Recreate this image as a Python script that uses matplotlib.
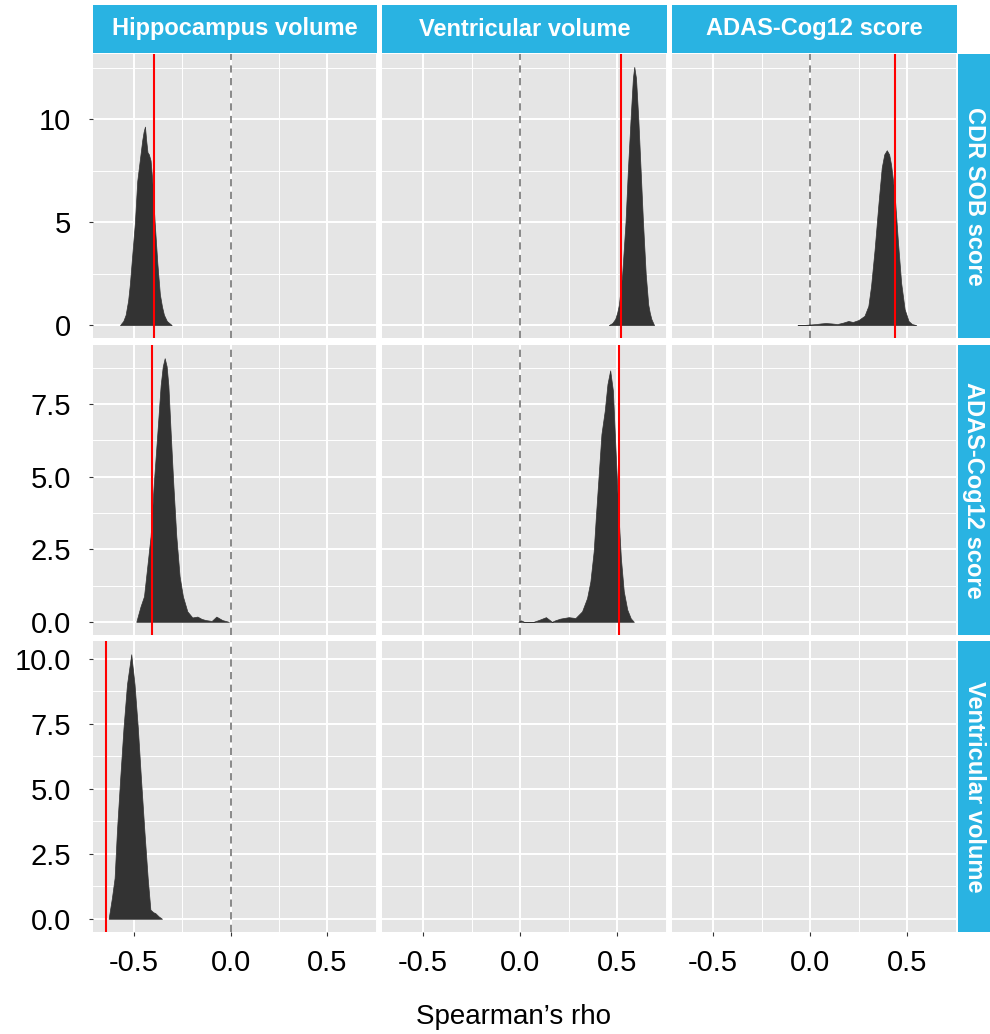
import matplotlib
matplotlib.use("Agg")
import matplotlib.pyplot as plt
import numpy as np

plt.rcParams["font.family"] = ["Liberation Sans", "DejaVu Sans"]

# --- facet labels ---
col_labels = ["Hippocampus volume", "Ventricular volume", "ADAS-Cog12 score"]
row_labels = ["CDR SOB score", "ADAS-Cog12 score", "Ventricular volume"]

# --- bootstrap densities of Spearman's rho ---
hippo_cdr_x = [-0.572, -0.555, -0.543, -0.530, -0.521, -0.508, -0.495, -0.483,
               -0.470, -0.457, -0.450, -0.443, -0.437, -0.430, -0.423, -0.414,
               -0.405, -0.393, -0.379, -0.366, -0.355, -0.345, -0.330, -0.305]
hippo_cdr_y = [0, 0.2, 0.5, 1.2, 2.0, 3.5, 5.0, 7.0, 8.0, 9.0, 9.4, 9.65,
               9.0, 8.4, 8.3, 8.0, 7.0, 5.0, 3.0, 1.5, 0.9, 0.5, 0.2, 0]

vent_cdr_x = [0.457, 0.475, 0.490, 0.500, 0.509, 0.526, 0.543, 0.555, 0.569,
              0.581, 0.588, 0.597, 0.609, 0.621, 0.633, 0.647, 0.660, 0.668,
              0.676, 0.690]
vent_cdr_y = [0, 0.1, 0.3, 0.6, 1.0, 2.5, 5.0, 7.5, 10.0, 12.0, 12.55, 12.0,
              10.0, 7.5, 5.0, 2.5, 1.0, 0.6, 0.3, 0]

adas_cdr_x = [-0.065, -0.03, 0.0, 0.03, 0.055, 0.08, 0.11, 0.14, 0.17, 0.197,
              0.22, 0.25, 0.28, 0.30, 0.314, 0.332, 0.352, 0.369, 0.382, 0.395,
              0.407, 0.417, 0.435, 0.452, 0.469, 0.487, 0.507, 0.525, 0.547]
adas_cdr_y = [0, 0.01, 0.03, 0.05, 0.08, 0.1, 0.08, 0.05, 0.12, 0.2, 0.15,
              0.25, 0.45, 0.93, 1.9, 3.65, 5.9, 7.66, 8.3, 8.5, 8.3, 7.8, 6.4,
              4.1, 2.05, 0.77, 0.2, 0.05, 0]

hippo_adas_x = [-0.488, -0.466, -0.448, -0.431, -0.414, -0.397, -0.379, -0.362,
                -0.351, -0.341, -0.331, -0.322, -0.310, -0.297, -0.281, -0.264,
                -0.247, -0.224, -0.198, -0.172, -0.150, -0.129, -0.098, -0.074,
                -0.043, -0.009]
hippo_adas_y = [0, 0.53, 0.88, 1.91, 2.95, 4.8, 6.5, 8.14, 8.8, 9.08, 8.8,
                8.14, 6.5, 4.8, 2.95, 1.57, 0.88, 0.36, 0.15, 0.18, 0.1, 0.06,
                0.03, 0.18, 0.06, 0]

vent_adas_x = [-0.009, 0.005, 0.02, 0.069, 0.095, 0.133, 0.164, 0.18, 0.207,
               0.25, 0.285, 0.319, 0.345, 0.362, 0.379, 0.391, 0.405, 0.419,
               0.436, 0.45, 0.464, 0.478, 0.491, 0.505, 0.519, 0.534, 0.552,
               0.57, 0.586]
vent_adas_y = [0, 0.05, 0, 0, 0.06, 0.16, 0, 0.05, 0.11, 0.16, 0.13, 0.36,
               0.82, 1.39, 2.43, 3.7, 5.08, 6.47, 7.27, 8.19, 8.66, 7.96, 6.0,
               3.93, 2.2, 1.05, 0.42, 0.12, 0]

hippo_vent_x = [-0.631, -0.614, -0.600, -0.588, -0.571, -0.554, -0.536, -0.514,
                -0.497, -0.480, -0.464, -0.446, -0.429, -0.415, -0.400, -0.390,
                -0.372, -0.355]
hippo_vent_y = [0, 0.8, 1.57, 3.37, 5.42, 7.35, 9.02, 10.18, 9.02, 7.35, 5.42,
                3.37, 1.57, 0.35, 0.25, 0.22, 0.09, 0]

# observed rho (red lines)
observed_rho = {(0, 0): -0.397, (0, 1): 0.522, (0, 2): 0.435,
                (1, 0): -0.409, (1, 1): 0.51,
                (2, 0): -0.645}

densities = {(0, 0): (hippo_cdr_x, hippo_cdr_y),
             (0, 1): (vent_cdr_x, vent_cdr_y),
             (0, 2): (adas_cdr_x, adas_cdr_y),
             (1, 0): (hippo_adas_x, hippo_adas_y),
             (1, 1): (vent_adas_x, vent_adas_y),
             (2, 0): (hippo_vent_x, hippo_vent_y)}

row_ticks = [[0, 5, 10], [0, 2.5, 5, 7.5], [0, 2.5, 5, 7.5, 10]]
row_ticklabels = [["0", "5", "10"], ["0.0", "2.5", "5.0", "7.5"],
                  ["0.0", "2.5", "5.0", "7.5", "10.0"]]
x_ticks = [-0.5, 0.0, 0.5]
x_ticklabels = ["-0.5", "0.0", "0.5"]

# --- layout in pixels ---
W, H = 990, 1034
col_px = [(93, 377), (382, 667), (672, 957)]
row_px = [(54, 338), (345, 635), (641, 932)]
STRIP = "#29B3E2"
PANEL = "#E5E5E5"

fig = plt.figure(figsize=(W / 100, H / 100), dpi=100)


def px_axes(x0, y0, x1, y1):
    return fig.add_axes([x0 / W, 1 - y1 / H, (x1 - x0) / W, (y1 - y0) / H])


# shared x range with ggplot-like 5% expansion
all_x = [v for xs, _ in densities.values() for v in xs] + list(observed_rho.values())
xlo, xhi = min(all_x), max(all_x)
xpad = 0.05 * (xhi - xlo)
xlim = (xlo - xpad, xhi + xpad)

for r, (y0, y1) in enumerate(row_px):
    row_max = max(max(densities[(rr, cc)][1]) for (rr, cc) in densities if rr == r)
    ylim = (-0.05 * row_max, 1.05 * row_max)
    for c, (x0, x1) in enumerate(col_px):
        ax = px_axes(x0, y0, x1, y1)
        ax.set_facecolor(PANEL)
        for s in ax.spines.values():
            s.set_visible(False)

        ax.set_xticks(x_ticks)
        ax.set_xticks([-0.25, 0.25, 0.75], minor=True)
        ax.set_yticks(row_ticks[r])
        step = row_ticks[r][1] - row_ticks[r][0]
        ax.set_yticks(np.arange(step / 2, ylim[1], step), minor=True)
        # limits after ticks so the tick setters cannot widen them
        ax.set_xlim(xlim)
        ax.set_ylim(ylim)
        ax.grid(which="major", color="white", linewidth=1.4)
        ax.grid(which="minor", color="white", linewidth=0.7)
        ax.set_axisbelow(True)
        ax.tick_params(which="minor", length=0)
        ax.tick_params(which="major", length=3, width=0.8, color="#333333",
                       labelsize=21, labelcolor="black")

        if r == len(row_px) - 1:
            ax.set_xticklabels(x_ticklabels)
            ax.tick_params(axis="x", pad=9)
        else:
            ax.tick_params(axis="x", length=0, labelbottom=False)
        if c == 0:
            ax.set_yticklabels(row_ticklabels[r])
            ax.tick_params(axis="y", pad=13)
        else:
            ax.tick_params(axis="y", length=0, labelleft=False)

        if (r, c) in densities:
            xs, ys = densities[(r, c)]
            ax.axvline(0, color="#7F7F7F", linestyle=(0, (4, 3)), linewidth=1.3,
                       zorder=2)
            ax.fill_between(xs, 0, ys, color="#333333", linewidth=0.5,
                            edgecolor="#333333", zorder=3)
            ax.axvline(observed_rho[(r, c)], color="#FF0000", linewidth=1.5,
                       zorder=4)

# top strips
for c, (x0, x1) in enumerate(col_px):
    sax = px_axes(x0, 5, x1, 53)
    sax.set_facecolor(STRIP)
    sax.set_xticks([])
    sax.set_yticks([])
    for s in sax.spines.values():
        s.set_visible(False)
    sax.text(0.5, 0.5, col_labels[c], transform=sax.transAxes, ha="center",
             va="center", color="white", fontsize=17, fontweight="bold")

# right strips
for r, (y0, y1) in enumerate(row_px):
    sax = px_axes(958, y0, 990, y1)
    sax.set_facecolor(STRIP)
    sax.set_xticks([])
    sax.set_yticks([])
    for s in sax.spines.values():
        s.set_visible(False)
    sax.text(0.5, 0.5, row_labels[r], transform=sax.transAxes, ha="center",
             va="center", color="white", fontsize=17, fontweight="bold",
             rotation=-90)

fig.text(514 / W, 1 - 1017 / H, "Spearman\u2019s rho", ha="center", va="center",
         fontsize=20)

fig.savefig("out.png", dpi=100, facecolor="white")
